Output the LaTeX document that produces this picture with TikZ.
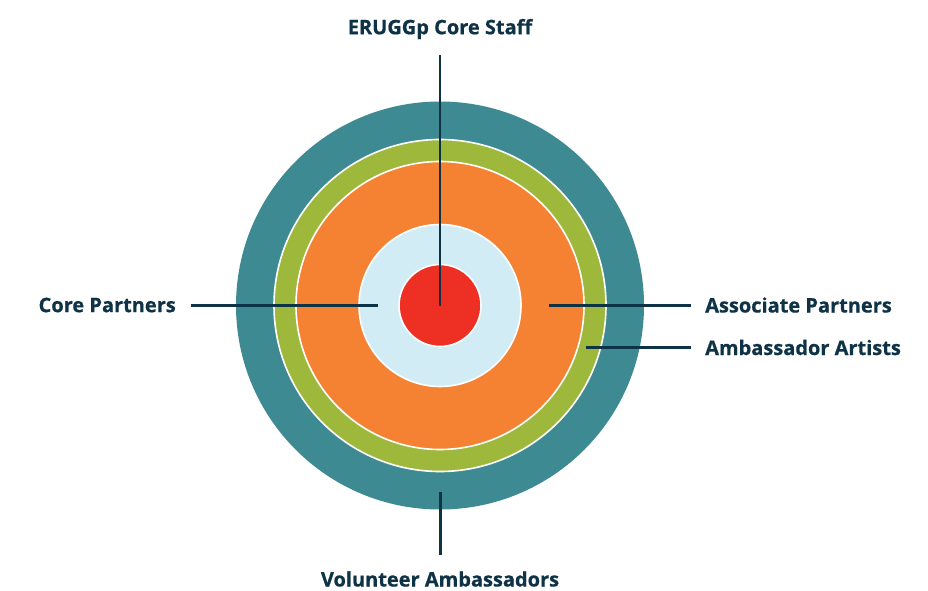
\documentclass[tikz,border=0pt]{standalone}
\usepackage{fontspec}
\setmainfont{Open Sans}[BoldFeatures={FakeBold=0.6}]
\definecolor{ringteal}{HTML}{3E8A93}
\definecolor{ringgreen}{HTML}{9EB83C}
\definecolor{ringorange}{HTML}{F58233}
\definecolor{ringblue}{HTML}{D2ECF6}
\definecolor{ringred}{HTML}{EE3024}
\definecolor{inkdark}{HTML}{0F3346}
\begin{document}
\begin{tikzpicture}[x=1pt,y=-1pt,
  ring/.style={circle,inner sep=0pt,minimum size=#1,draw=white,line width=1.6pt},
  label/.style={font=\bfseries\fontsize{20}{23}\selectfont,text=inkdark,inner sep=0pt},
  leader/.style={draw=inkdark,line width=2.6pt}]
  \useasboundingbox (0,0) rectangle (928,591);
  % concentric rings
  \node[ring=408pt,fill=ringteal,draw=none] (teal) at (440,305.5) {};
  \node[ring=332pt,fill=ringgreen] (green) at (440,305.5) {};
  \node[ring=288pt,fill=ringorange] (orange) at (440,305.5) {};
  \node[ring=162pt,fill=ringblue] (blue) at (440,305.5) {};
  \node[ring=82pt,fill=ringred] (red) at (440,305.5) {};
  % labels
  \node[label] (staff) at (440,29) {ERUGGp Core Staff};
  \node[label,anchor=east] (core) at (176,305) {Core Partners};
  \node[label,anchor=west] (assoc) at (705,305) {Associate Partners};
  \node[label,anchor=west] (artists) at (705,347.5) {Ambassador Artists};
  \node[label] (vol) at (440,579) {Volunteer Ambassadors};
  % leader line ends
  \coordinate (staffTop) at (440,55);
  \coordinate (coreL) at (190.5,305.5);
  \coordinate (coreR) at (378,305.5);
  \coordinate (assocL) at (549,305.5);
  \coordinate (assocR) at (690.5,305.5);
  \coordinate (artL) at (586,347.5);
  \coordinate (artR) at (690.5,347.5);
  \coordinate (volT) at (440.5,492);
  \coordinate (volB) at (440.5,555);
  % leader lines
  \draw[leader] (staffTop) -- (red.center);
  \draw[leader] (coreL) -- (coreR);
  \draw[leader] (assocL) -- (assocR);
  \draw[leader] (artL) -- (artR);
  \draw[leader] (volT) -- (volB);
\end{tikzpicture}
\end{document}
